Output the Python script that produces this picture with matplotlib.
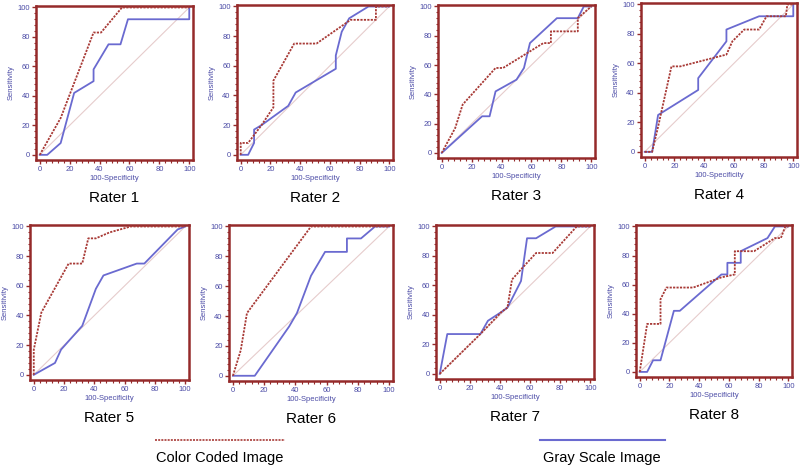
import matplotlib
matplotlib.use("Agg")
import matplotlib.pyplot as plt
from matplotlib.ticker import MultipleLocator

plt.rcParams["font.family"] = ["Liberation Sans", "DejaVu Sans"]

rater_names = ["Rater 1", "Rater 2", "Rater 3", "Rater 4",
               "Rater 5", "Rater 6", "Rater 7", "Rater 8"]

# 100-Specificity / Sensitivity points of each ROC curve (color coded image)
color_fpr = [
    [0, 14, 36, 41, 55, 100],
    [0, 0, 5, 14, 22, 22, 36, 51, 74, 91, 91, 100],
    [0, 9, 14, 36, 41, 68, 73, 73, 91, 91, 100],
    [0, 5, 9, 18, 24, 55, 59, 67, 77, 82, 95, 96, 100],
    [0, 0, 5, 23, 32, 36, 41, 50, 64, 100],
    [0, 5, 9, 50, 100],
    [0, 27, 41, 45, 48, 55, 64, 75, 91, 100],
    [0, 5, 14, 14, 18, 36, 55, 64, 64, 77, 91, 95, 98, 100],
]
color_sens = [
    [0, 25, 83, 83, 100, 100],
    [0, 8, 8, 20, 32, 50, 75, 75, 91, 91, 100, 100],
    [0, 17, 33, 58, 58, 75, 75, 83, 83, 92, 100],
    [0, 0, 17, 58, 58, 66, 75, 83, 83, 92, 92, 100, 100],
    [0, 17, 42, 75, 75, 92, 92, 96, 100, 100],
    [0, 17, 42, 100, 100],
    [0, 27, 42, 45, 64, 72, 82, 82, 100, 100],
    [0, 33, 33, 50, 58, 58, 65, 67, 83, 83, 92, 92, 100, 100],
]

# gray scale image
gray_fpr = [
    [0, 5, 14, 23, 36, 36, 46, 54, 59, 100, 100],
    [0, 5, 9, 9, 14, 32, 37, 64, 64, 68, 73, 86, 100],
    [0, 27, 32, 36, 50, 55, 59, 77, 91, 95, 100],
    [0, 5, 9, 36, 36, 55, 55, 77, 100, 100],
    [0, 14, 18, 32, 41, 46, 68, 73, 95, 100],
    [0, 14, 36, 41, 50, 59, 73, 73, 82, 91, 100],
    [0, 5, 27, 32, 41, 45, 54, 58, 64, 77, 100],
    [0, 5, 9, 14, 23, 27, 55, 59, 59, 64, 68, 68, 86, 91, 100],
]
gray_sens = [
    [0, 0, 8, 42, 50, 58, 75, 75, 92, 92, 100],
    [0, 0, 8, 17, 20, 33, 42, 58, 67, 83, 92, 100, 100],
    [0, 25, 25, 42, 50, 58, 75, 92, 92, 100, 100],
    [0, 0, 25, 42, 50, 75, 83, 92, 92, 100],
    [0, 8, 17, 33, 58, 67, 75, 75, 98, 100],
    [0, 0, 33, 42, 67, 83, 83, 92, 92, 100, 100],
    [0, 27, 27, 36, 42, 45, 63, 92, 92, 100, 100],
    [0, 0, 8, 8, 42, 42, 67, 67, 75, 75, 75, 83, 92, 100, 100],
]

legend_labels = ["Color Coded Image", "Gray Scale Image"]

RED = "#a83a36"
SPINE = "#952a2a"
BLUE = "#6a6ad0"
TXT = "#4b4ba6"
W, H = 800, 467

# panel boxes in pixels: left, top, right, bottom
boxes = [(36, 6, 193, 160), (237, 5, 393, 160), (438, 5, 595, 158), (641, 3, 797, 157),
         (30, 225, 189, 380), (229, 225, 393, 381), (436, 225, 594, 379), (636, 225, 792, 377)]

fig = plt.figure(figsize=(W / 100, H / 100), dpi=100)

for i, (l, t, r, b) in enumerate(boxes):
    ax = fig.add_axes([l / W, 1 - b / H, (r - l) / W, (b - t) / H])
    ax.plot([0, 100], [0, 100], color="#e6cccc", lw=0.8, zorder=1)
    ax.plot(gray_fpr[i], gray_sens[i], color=BLUE, lw=1.3, zorder=2)
    ax.plot(color_fpr[i], color_sens[i], color=RED, lw=1.3,
            linestyle=(0, (1.2, 0.7)), zorder=3)
    ax.set_xlim(-2.5, 102.5)
    ax.set_ylim(-3.5, 101)
    ax.set_xticks(range(0, 101, 20))
    ax.set_yticks(range(0, 101, 20))
    ax.xaxis.set_minor_locator(MultipleLocator(4))
    ax.yaxis.set_minor_locator(MultipleLocator(4))
    ax.tick_params(which="major", length=3, width=1, color=SPINE,
                   labelsize=5.5, labelcolor=TXT, pad=1.5)
    ax.tick_params(which="minor", length=1.8, width=0.8, color=SPINE)
    for s in ax.spines.values():
        s.set_color(SPINE)
        s.set_linewidth(1.8)
    ax.set_xlabel("100-Specificity", fontsize=5.5, color=TXT, labelpad=1.5)
    ax.set_ylabel("Sensitivity", fontsize=5.5, color=TXT, labelpad=2)
    fig.text((l + r) / 2 / W, 1 - (b + 38) / H, rater_names[i],
             ha="center", va="center", fontsize=11, color="black")

# legend at the bottom
lx = fig.add_axes([0, 0, 1, 1], facecolor="none")
lx.set_xlim(0, W)
lx.set_ylim(H, 0)
lx.axis("off")
lx.plot([155, 285], [440, 440], color=RED, lw=1.2, linestyle=(0, (1.2, 0.7)))
lx.plot([540, 665], [440, 440], color=BLUE, lw=1.5)
lx.text(220, 458, legend_labels[0], ha="center", va="center", fontsize=10.5)
lx.text(602, 458, legend_labels[1], ha="center", va="center", fontsize=10.5)

fig.savefig("out.png", dpi=100)
